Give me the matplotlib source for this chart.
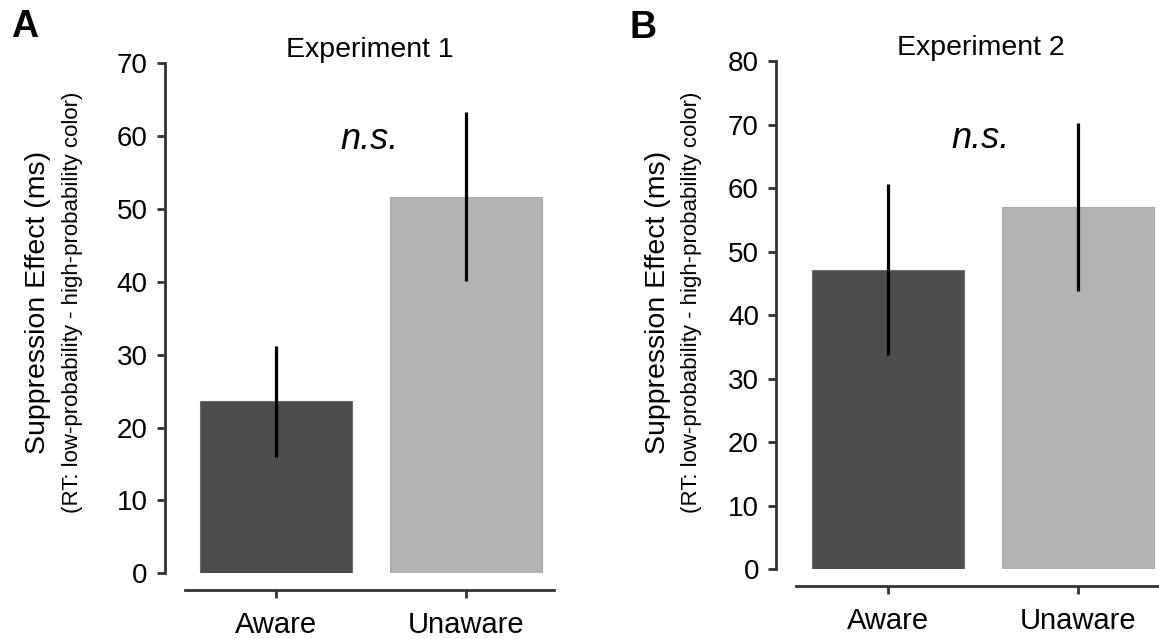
import matplotlib
matplotlib.use('Agg')
import matplotlib.pyplot as plt
import numpy as np

plt.rcParams['font.family'] = ['Liberation Sans', 'DejaVu Sans']

groups = ['Aware', 'Unaware']
exp1_means = [23.6, 51.7]
exp1_errors = [7.65, 11.55]
exp2_means = [47.15, 57.0]
exp2_errors = [13.45, 13.2]
exp1_ticks = [0, 10, 20, 30, 40, 50, 60, 70]
exp2_ticks = [0, 10, 20, 30, 40, 50, 60, 70, 80]
bar_colors = ['#4d4d4d', '#b3b3b3']
edge_colors = ['#6e6e6e', '#a9a9a9']

W, H = 1159, 639
SPINE = '#333333'


def px(x, y):
	return x / W, 1 - y / H


def draw_panel(ax, title, means, errors, ticks, ns_y):
	x = np.arange(len(groups))
	ax.bar(x, means, width=0.8, color=bar_colors, edgecolor=edge_colors, linewidth=0.8, zorder=2)
	ax.errorbar(x, means, yerr=errors, fmt='none', ecolor='black', elinewidth=2.3, capsize=0, zorder=3)
	ax.set_xlim(-0.48, 1.46)
	ax.set_ylim(ticks[0], ticks[-1])
	ax.set_yticks(ticks)
	ax.set_xticks(x, groups)
	for side in ['top', 'right']:
		ax.spines[side].set_visible(False)
	ax.spines['left'].set_position(('outward', 14.4))
	ax.spines['bottom'].set_position(('outward', 12.3))
	for side in ['left', 'bottom']:
		ax.spines[side].set_linewidth(2.0)
		ax.spines[side].set_color(SPINE)
	ax.tick_params(axis='y', length=5.5, width=2.0, color=SPINE, labelsize=20, pad=7)
	ax.tick_params(axis='x', length=5.5, width=2.0, color=SPINE, labelsize=21, pad=9)
	ax.set_title(title, fontsize=20.5, pad=2.5)
	ax.text(0.49, ns_y, 'n.s.', fontsize=26, style='italic', ha='center', va='baseline')


fig = plt.figure(figsize=(W / 100, H / 100), dpi=100)
ax1 = fig.add_axes([185 / W, 1 - 573.3 / H, 368.7 / W, 510 / H])
ax2 = fig.add_axes([796.3 / W, 1 - 569.3 / H, 368.7 / W, 508.3 / H])

draw_panel(ax1, 'Experiment 1', exp1_means, exp1_errors, exp1_ticks, 58.3)
draw_panel(ax2, 'Experiment 2', exp2_means, exp2_errors, exp2_ticks, 66.3)

# y labels, two lines in different sizes
for main_x, sub_x in [(38, 72.5), (658, 692)]:
	fig.text(*px(main_x, 302), 'Suppression Effect (ms)', rotation=90, fontsize=20.5, ha='center', va='center')
	fig.text(*px(sub_x, 302), '(RT: low-probability - high-probability color)', rotation=90, fontsize=16,
	         ha='center', va='center')

fig.text(*px(11, 9), 'A', fontsize=27, fontweight='bold', ha='left', va='top')
fig.text(*px(630, 10), 'B', fontsize=27, fontweight='bold', ha='left', va='top')

plt.savefig('out.png', dpi=100)
